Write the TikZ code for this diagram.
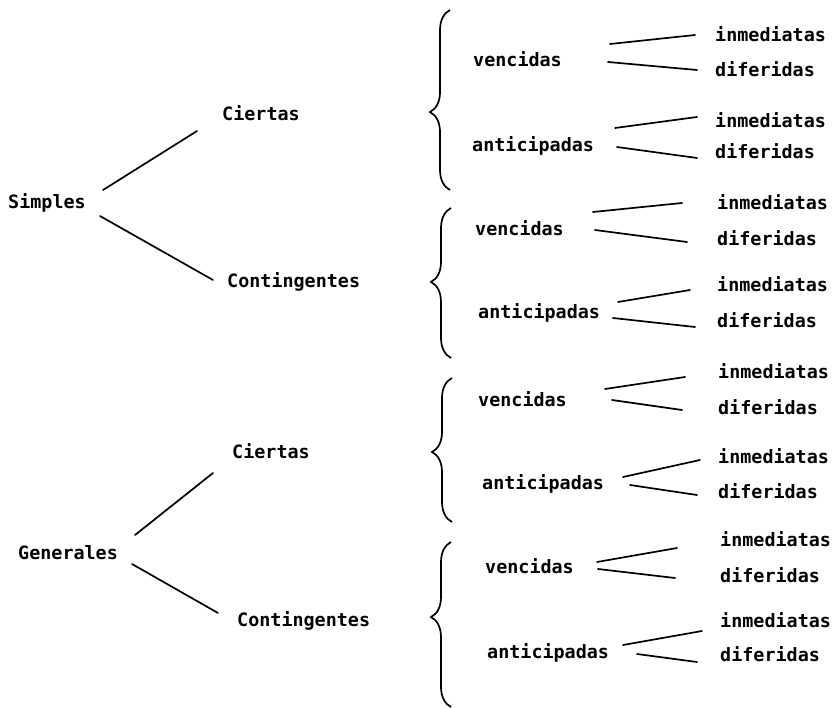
\documentclass[tikz,border=0pt]{standalone}
\usepackage{fontspec}
\newfontfamily\twfont{DejaVu Sans Mono}
\usetikzlibrary{decorations.pathreplacing}
\begin{document}
\begin{tikzpicture}[x=1pt,y=-1pt,
  lbl/.style={anchor=base west,inner sep=0pt,font=\twfont\bfseries\fontsize{18.4}{20}\selectfont},
  conn/.style={line width=1.7pt,line cap=round},
  bracestyle/.style={line width=1.7pt,decorate,decoration={brace,amplitude=20pt,aspect=#1}}]
\useasboundingbox[fill=white] (0,0) rectangle (837,708);
% level 1
\node[lbl] (S) at (8,209) {Simples};
\node[lbl] (G) at (18,559) {Generales};
% level 2
\node[lbl] (C1) at (222,121) {Ciertas};
\node[lbl] (K1) at (227,288) {Contingentes};
\node[lbl] (C2) at (232,458) {Ciertas};
\node[lbl] (K2) at (237,626) {Contingentes};
% level 3
\node[lbl] (v1) at (473,67) {vencidas};
\node[lbl] (a1) at (472,152) {anticipadas};
\node[lbl] (v2) at (475,236) {vencidas};
\node[lbl] (a2) at (478,319) {anticipadas};
\node[lbl] (v3) at (478,406) {vencidas};
\node[lbl] (a3) at (482,489) {anticipadas};
\node[lbl] (v4) at (485,573) {vencidas};
\node[lbl] (a4) at (487,658) {anticipadas};
% level 4
\node[lbl] (i1) at (715,42) {inmediatas};
\node[lbl] (d1) at (715,77) {diferidas};
\node[lbl] (i2) at (715,128) {inmediatas};
\node[lbl] (d2) at (715,159) {diferidas};
\node[lbl] (i3) at (717,210) {inmediatas};
\node[lbl] (d3) at (717,246) {diferidas};
\node[lbl] (i4) at (717,292) {inmediatas};
\node[lbl] (d4) at (717,327) {diferidas};
\node[lbl] (i5) at (718,378) {inmediatas};
\node[lbl] (d5) at (718,414) {diferidas};
\node[lbl] (i6) at (718,463) {inmediatas};
\node[lbl] (d6) at (718,498) {diferidas};
\node[lbl] (i7) at (720,546) {inmediatas};
\node[lbl] (d7) at (720,582) {diferidas};
\node[lbl] (i8) at (720,627) {inmediatas};
\node[lbl] (d8) at (720,661) {diferidas};
% braces
\draw[bracestyle=0.433] (450,190) -- (450,10);
\draw[bracestyle=0.507] (451,358) -- (451,208);
\draw[bracestyle=0.486] (452,522) -- (452,378);
\draw[bracestyle=0.545] (451,707) -- (451,542);
% level 1 -> 2
\draw[conn] ([shift={(95,-19)}]S.base west) -- ([shift={(-25,10)}]C1.base west);
\draw[conn] ([shift={(92,7)}]S.base west) -- ([shift={(-14,-8)}]K1.base west);
\draw[conn] ([shift={(117,-24)}]G.base west) -- ([shift={(-19,15)}]C2.base west);
\draw[conn] ([shift={(114,5)}]G.base west) -- ([shift={(-19,-13)}]K2.base west);
% level 3 -> 4
\draw[conn] ([shift={(137,-23)}]v1.base west) -- ([shift={(-20,-7)}]i1.base west);
\draw[conn] ([shift={(135,-5)}]v1.base west) -- ([shift={(-18,-7)}]d1.base west);
\draw[conn] ([shift={(143,-24)}]a1.base west) -- ([shift={(-18,-11)}]i2.base west);
\draw[conn] ([shift={(145,-5)}]a1.base west) -- ([shift={(-18,-1)}]d2.base west);
\draw[conn] ([shift={(118,-24)}]v2.base west) -- ([shift={(-35,-7)}]i3.base west);
\draw[conn] ([shift={(120,-6)}]v2.base west) -- ([shift={(-30,-4)}]d3.base west);
\draw[conn] ([shift={(140,-17)}]a2.base west) -- ([shift={(-27,-2)}]i4.base west);
\draw[conn] ([shift={(135,-1)}]a2.base west) -- ([shift={(-22,0)}]d4.base west);
\draw[conn] ([shift={(127,-17)}]v3.base west) -- ([shift={(-33,-1)}]i5.base west);
\draw[conn] ([shift={(134,-6)}]v3.base west) -- ([shift={(-36,-4)}]d5.base west);
\draw[conn] ([shift={(141,-12)}]a3.base west) -- ([shift={(-18,-3)}]i6.base west);
\draw[conn] ([shift={(148,-4)}]a3.base west) -- ([shift={(-21,-3)}]d6.base west);
\draw[conn] ([shift={(112,-11)}]v4.base west) -- ([shift={(-43,2)}]i7.base west);
\draw[conn] ([shift={(113,-4)}]v4.base west) -- ([shift={(-45,-4)}]d7.base west);
\draw[conn] ([shift={(136,-13)}]a4.base west) -- ([shift={(-18,4)}]i8.base west);
\draw[conn] ([shift={(150,-4)}]a4.base west) -- ([shift={(-23,1)}]d8.base west);
\end{tikzpicture}
\end{document}
